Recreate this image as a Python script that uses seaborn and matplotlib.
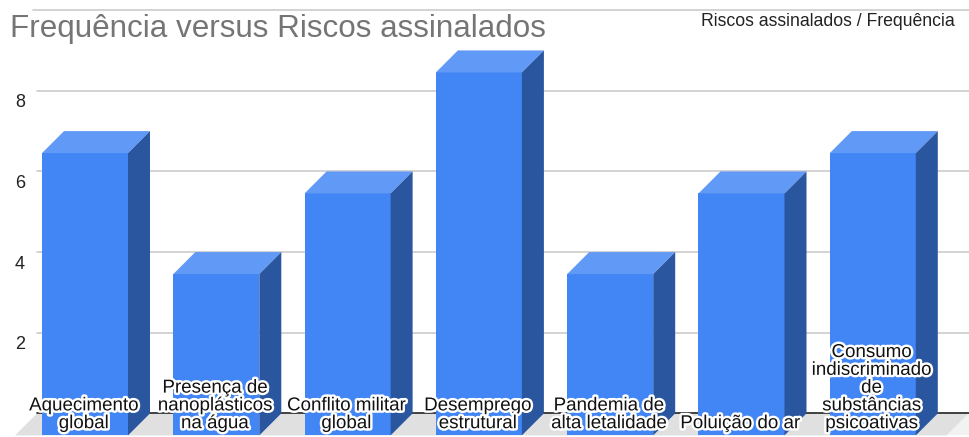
import matplotlib
matplotlib.use("Agg")
import matplotlib.pyplot as plt
import matplotlib.patheffects as pe
from matplotlib.patches import Polygon
import seaborn as sns
import pandas as pd

# ---- data ----
categories = [
    "Aquecimento\nglobal",
    "Presença de\nnanoplásticos\nna água",
    "Conflito militar\nglobal",
    "Desemprego\nestrutural",
    "Pandemia de\nalta letalidade",
    "Poluição do ar",
    "Consumo\nindiscriminado\nde\nsubstâncias\npsicoativas",
]
values = [7, 4, 6, 9, 4, 6, 7]
y_ticks = [2, 4, 6, 8]
grid_values = [2, 4, 6, 8, 10]
title = "Frequência versus Riscos assinalados"
legend_text = "Riscos assinalados / Frequência"

sns.set_style("white")
plt.rcParams["font.family"] = ["Liberation Sans", "DejaVu Sans"]

W, H = 969, 437
fig = plt.figure(figsize=(W / 100, H / 100), dpi=100)
ax = fig.add_axes([0, 0, 1, 1])

df = pd.DataFrame({"cat": categories, "val": values})
FRONT = "#4285f4"
TOP = "#6199f6"
SIDE = "#2a56a0"
sns.barplot(data=df, x="cat", y="val", color=FRONT, saturation=1,
            width=0.655, ax=ax, zorder=2, linewidth=0)

# pixel mapping
px0, pxstep = 85.0, 131.3
py0, pystep = 435.4, 40.33
ax.set_xlim((0 - px0) / pxstep, (W - px0) / pxstep)
ax.set_ylim((py0 - H) / pystep, py0 / pystep)
dx = 22 / pxstep
dy = 22 / pystep

# floor
xl_front = (15 - px0) / pxstep
xl_back = (37 - px0) / pxstep
xr_back = (W - px0) / pxstep
xr_front = xr_back - dx
ax.add_patch(Polygon([(xl_front, 0), (xr_front, 0), (xr_back, dy), (xl_back, dy)],
                     closed=True, facecolor="#e0e0e0", edgecolor="none", zorder=0.3))
ax.add_patch(Polygon([(xr_front, 0), (xr_back + 1, 0), (xr_back + 1, dy), (xr_back, dy)],
                     closed=True, facecolor="#f2f2f2", edgecolor="none", zorder=0.3))

# gridlines on back wall
for g in grid_values:
    x_start = xl_back if g != 10 else (33 - px0) / pxstep
    ax.plot([x_start, xr_back], [g + dy, g + dy], color="#cccccc", lw=1.2, zorder=0.5)
ax.plot([xl_back, xr_back], [dy, dy], color="#222222", lw=1.2, zorder=0.6)

# 3D faces
for p in ax.patches[:]:
    if not isinstance(p, matplotlib.patches.Rectangle):
        continue
    x, w, h = p.get_x(), p.get_width(), p.get_height()
    if h <= 0:
        continue
    ax.add_patch(Polygon([(x, h), (x + w, h), (x + w + dx, h + dy), (x + dx, h + dy)],
                         closed=True, facecolor=TOP, edgecolor="none", zorder=2))
    ax.add_patch(Polygon([(x + w, 0), (x + w + dx, dy), (x + w + dx, h + dy), (x + w, h)],
                         closed=True, facecolor=SIDE, edgecolor="none", zorder=2))

# category labels inside bars
halo = [pe.withStroke(linewidth=3.5, foreground="white")]
for i, c in enumerate(categories):
    ax.text(i - 0.01, 0.08, c, ha="center", va="bottom", multialignment="center",
            fontsize=13.5, color="#111111", linespacing=1.06, zorder=5,
            path_effects=halo)

# y tick labels
for t in y_ticks:
    ax.text((20 - px0) / pxstep, t + dy - 12 / pystep, str(t), ha="center", va="center",
            fontsize=13, color="#222222", zorder=5)

ax.set_axis_off()

fig.text(10 / W, 1 - 29 / H, title, ha="left", va="center", fontsize=22.6, color="#757575")
fig.text(955 / W, 1 - 21 / H, legend_text, ha="right", va="center", fontsize=12.7, color="#222222")

fig.savefig("out.png", dpi=100)
